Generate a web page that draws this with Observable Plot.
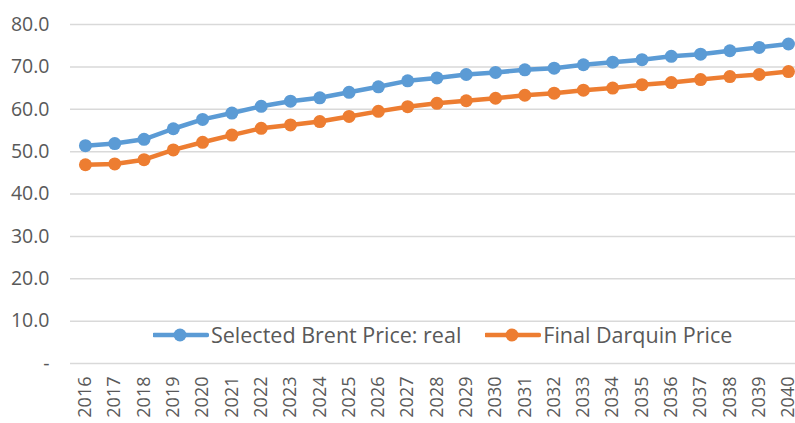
<!DOCTYPE html>
<html>
<head>
<meta charset="utf-8">
<script src="https://cdn.jsdelivr.net/npm/d3@7"></script>
<script src="https://cdn.jsdelivr.net/npm/@observablehq/plot@0.6"></script>
<style>
  html, body { margin: 0; padding: 0; background: #fff; }
  #wrap { position: relative; width: 795px; height: 423px; overflow: hidden; font-family: "Open Sans", sans-serif; }
  #legend { position: absolute; left: 153px; top: 320px; display: flex; align-items: center; font-size: 21.5px; color: #595959; white-space: nowrap; }
  #legend .item { display: flex; align-items: center; }
  #legend svg { display: block; }
</style>
</head>
<body>
<div id="wrap"></div>
<script>
const years = [2016,2017,2018,2019,2020,2021,2022,2023,2024,2025,2026,2027,2028,2029,2030,2031,2032,2033,2034,2035,2036,2037,2038,2039,2040];
const brent = [51.4,51.9,52.9,55.4,57.6,59.1,60.7,61.9,62.7,64.0,65.3,66.7,67.4,68.2,68.7,69.3,69.7,70.5,71.1,71.7,72.5,73.0,73.8,74.6,75.4];
const darquin = [46.9,47.1,48.1,50.4,52.2,53.9,55.5,56.3,57.1,58.3,59.5,60.6,61.4,62.0,62.6,63.3,63.8,64.5,65.0,65.8,66.3,67.0,67.7,68.2,68.9];
const seriesNames = ["Selected Brent Price: real", "Final Darquin Price"];
const seriesColors = ["#5b9bd5", "#ed7d31"];
const yTicks = [0,10,20,30,40,50,60,70,80];

const data = [];
years.forEach((y, i) => {
  data.push({year: y, value: brent[i], series: seriesNames[0]});
  data.push({year: y, value: darquin[i], series: seriesNames[1]});
});

const chart = Plot.plot({
  width: 795,
  height: 423,
  marginLeft: 70,
  marginRight: 0,
  marginTop: 24,
  marginBottom: 60,
  style: {fontFamily: "'Open Sans', sans-serif", fontSize: "19px", color: "#595959", background: "#fff", overflow: "visible"},
  x: {type: "linear", domain: [2015.49, 2040.24]},
  y: {domain: [0, 80]},
  color: {domain: seriesNames, range: seriesColors},
  marks: [
    Plot.gridY(yTicks, {stroke: "#d9d9d9", strokeOpacity: 1, strokeWidth: 1.5}),
    Plot.axisY({ticks: yTicks, tickSize: 0, tickPadding: 21, label: null, tickFormat: d => d === 0 ? "-" : d.toFixed(1), fill: "#595959", fontSize: 19.5}),
    Plot.axisX({ticks: years, tickSize: 0, tickPadding: 13, tickRotate: -90, label: null, tickFormat: d => String(d), fill: "#595959", fontSize: 18}),
    Plot.line(data, {x: "year", y: "value", z: "series", stroke: "series", strokeWidth: 4.5}),
    Plot.dot(data, {x: "year", y: "value", fill: "series", r: 6.5})
  ]
});

const wrap = document.getElementById("wrap");
wrap.appendChild(chart);

const legend = document.createElement("div");
legend.id = "legend";
seriesNames.forEach((name, i) => {
  const item = document.createElement("div");
  item.className = "item";
  item.style.marginRight = i === 0 ? "24px" : "0";
  item.innerHTML = `<svg width="56" height="16"><line x1="1" y1="8" x2="54" y2="8" stroke="${seriesColors[i]}" stroke-width="4.5" stroke-linecap="round"/><circle cx="27" cy="8" r="6.5" fill="${seriesColors[i]}"/></svg><span style="margin-left:2px">${name}</span>`;
  legend.appendChild(item);
});
wrap.appendChild(legend);
</script>
</body>
</html>
